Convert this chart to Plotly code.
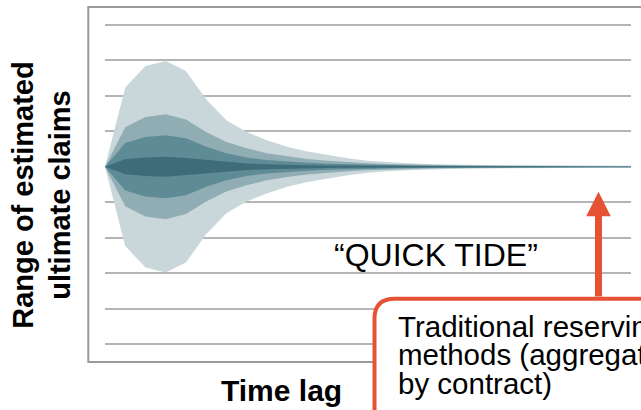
import plotly.graph_objects as go

# ---- data ----
lag = list(range(0, 27))
band_outer = [0, 2.23, 2.84, 2.98, 2.70, 1.90, 1.31, 0.98, 0.75, 0.56, 0.43, 0.33, 0.24,
              0.17, 0.13, 0.10, 0.075, 0.06, 0.05, 0.045, 0.04, 0.035, 0.03, 0.03, 0.03, 0.03, 0.03]
band_mid = [0, 1.11, 1.40, 1.48, 1.33, 0.98, 0.70, 0.52, 0.38, 0.29, 0.22, 0.17, 0.13,
            0.10, 0.08, 0.06, 0.05, 0.04, 0.035, 0.03, 0.028, 0.025, 0.022, 0.02, 0.02, 0.02, 0.02]
band_inner = [0, 0.67, 0.84, 0.89, 0.80, 0.56, 0.38, 0.26, 0.19, 0.14, 0.11, 0.085, 0.07,
              0.055, 0.045, 0.037, 0.03, 0.026, 0.023, 0.02, 0.018, 0.017, 0.016, 0.015, 0.015, 0.015, 0.015]
band_core = [0, 0.21, 0.26, 0.28, 0.25, 0.19, 0.14, 0.09, 0.07, 0.05, 0.04, 0.035, 0.03,
             0.025, 0.022, 0.02, 0.018, 0.016, 0.014, 0.013, 0.012, 0.011, 0.01, 0.01, 0.01, 0.01, 0.01]

bands = [band_outer, band_mid, band_inner, band_core]
colors = ["#c9d7db", "#91adb4", "#5e8b95", "#3e6c78"]

y_title = "Range of estimated<br>ultimate claims"
x_title = "Time lag"
label_text = "\u201cQUICK TIDE\u201d"
box_lines = ["Traditional reserving", "methods (aggregate", "by contract)"]

RED = "#e65234"
W, H = 641, 410
ML, MR, MT, MB = 105, 10, 7, 48
PW, PH = W - ML - MR, H - MT - MB


def px_x(p):
    return (p - ML) / PW


def px_y(p):
    return (H - MB - p) / PH


fig = go.Figure()
for b, c in zip(bands, colors):
    xs = lag + lag[::-1]
    ys = b + [-v for v in b[::-1]]
    fig.add_trace(go.Scatter(x=xs, y=ys, fill="toself", fillcolor=c,
                             mode="lines", line=dict(width=0), hoverinfo="skip",
                             showlegend=False))

# frame
fig.add_shape(type="rect", xref="paper", yref="paper",
              x0=px_x(88.3), x1=1.3, y0=0, y1=1,
              line=dict(color="#9a9a9a", width=2), fillcolor="rgba(0,0,0,0)", layer="above")

# rounded callout box
x0, x1 = px_x(374.5), px_x(720)
yt, yb = px_y(298.7), px_y(470)
rx, ry = 20 / PW, 20 / PH
path = (f"M {x0},{yb} L {x0},{yt - ry} Q {x0},{yt} {x0 + rx},{yt} "
        f"L {x1},{yt} L {x1},{yb} Z")
fig.add_shape(type="path", xref="paper", yref="paper", path=path,
              fillcolor="white", line=dict(color=RED, width=4), layer="above")

ann = []
ann.append(dict(text="<b>" + y_title + "</b>", xref="paper", yref="paper",
                x=px_x(41.8), y=px_y(195), textangle=-90, showarrow=False,
                xanchor="center", yanchor="middle",
                font=dict(family="Liberation Sans, Arial", size=29, color="black")))
ann.append(dict(text="<b>" + x_title + "</b>", xref="paper", yref="paper",
                x=px_x(281), y=px_y(391), showarrow=False,
                xanchor="center", yanchor="middle",
                font=dict(family="Liberation Sans, Arial", size=30, color="black")))
ann.append(dict(text=label_text, xref="paper", yref="paper",
                x=px_x(435.5), y=px_y(255.5), showarrow=False,
                xanchor="center", yanchor="middle",
                font=dict(family="Liberation Sans, Arial", size=32, color="black")))
for line, cy in zip(box_lines, [326.5, 354.8, 383]):
    ann.append(dict(text=line, xref="paper", yref="paper",
                    x=px_x(396), y=px_y(cy), showarrow=False,
                    xanchor="left", yanchor="middle",
                    font=dict(family="Liberation Sans, Arial", size=29.5, color="black")))
# arrow
ann.append(dict(text="", xref="paper", yref="paper", x=px_x(598.5), y=px_y(191.7),
                ax=0, ay=298 - 191.7, showarrow=True, arrowhead=2, arrowsize=0.7,
                arrowwidth=7, arrowcolor=RED, standoff=0))

fig.update_layout(
    width=W, height=H,
    margin=dict(l=ML, r=MR, t=MT, b=MB),
    paper_bgcolor="white", plot_bgcolor="white",
    showlegend=False,
    annotations=ann,
    xaxis=dict(range=[0, 26], showgrid=False, zeroline=False, showticklabels=False,
               showline=False, fixedrange=True),
    yaxis=dict(range=[-5.5, 4.5], dtick=1, tick0=0, showgrid=True, gridcolor="#b5b5b5",
               gridwidth=1.5, zeroline=False, showticklabels=False, showline=False,
               fixedrange=True),
)

fig.write_html("out.html", config={"displayModeBar": False},
               post_script="document.body.style.margin='0';document.body.style.overflow='hidden';")
